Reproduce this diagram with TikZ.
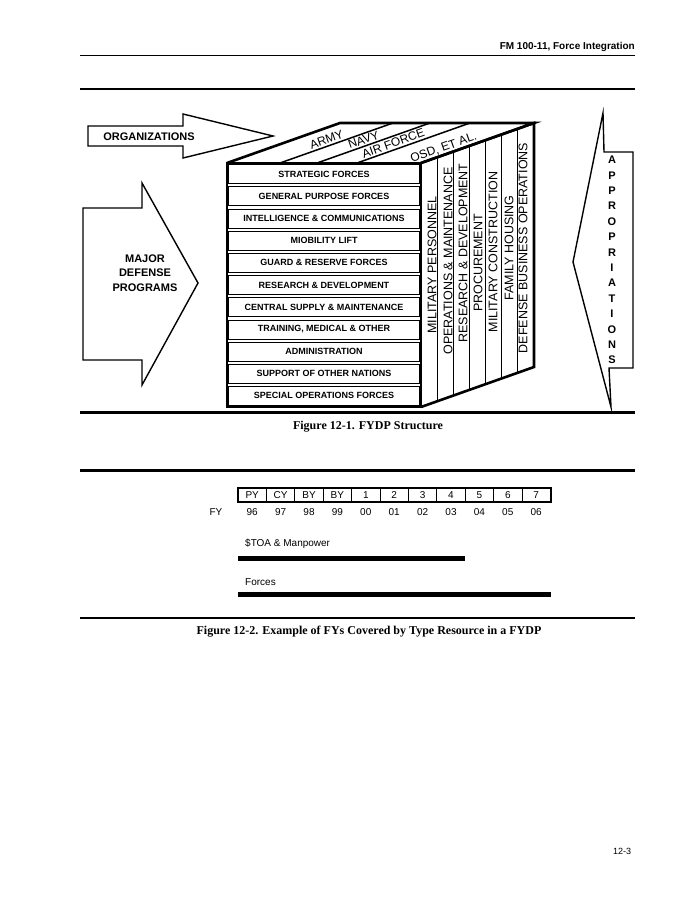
\documentclass[tikz,border=0pt]{standalone}
\usepackage{fontspec}
\setmainfont{Liberation Sans}
\newfontfamily\capfont{Liberation Serif}
\usetikzlibrary{calc}

\begin{document}
\begin{tikzpicture}[x=1pt, y=-1pt,
    every node/.style={inner sep=0pt},
    thinrule/.style={line width=1.3pt},
    rule/.style={line width=2.5pt},
    frame/.style={line width=2.6pt, line join=miter},
    bigarrow/.style={draw, line width=1.4pt, line join=miter},
    row/.style={draw, line width=0.7pt, minimum width=191, minimum height=19,
        font=\fontsize{9}{10}\selectfont\bfseries},
    col/.style={rotate=90, font=\fontsize{12.5}{13}\selectfont},
    org/.style={sloped, above=1.5pt, font=\fontsize{12}{13}\selectfont},
    cell/.style={draw, line width=0.8pt, minimum width=28.4, minimum height=13,
        font=\fontsize{10}{11}\selectfont},
    yr/.style={font=\fontsize{10}{11}\selectfont},
    bar/.style={line width=5pt},
    figcap/.style={font=\capfont\fontsize{12}{14}\selectfont\bfseries}]
    \useasboundingbox (0,0) rectangle (695,899);

    \node[anchor=south east, font=\fontsize{10}{12}\selectfont\bfseries] (hdr) at (635,52) {FM 100-11, Force Integration};
    \draw[thinrule] (80,55.5) -- (635,55.5);
    \draw[rule] (80,89) -- (635,89);

    \draw[bigarrow] (88,126) -- (183,126) -- (183,114) -- (273,136) -- (183,158) -- (183,146) -- (88,146) -- cycle;
    \node[font=\fontsize{11}{12}\selectfont\bfseries] (orgs) at (149,137) {ORGANIZATIONS};
    \draw[bigarrow] (83,208) -- (142,208) -- (142,183) -- (198,283) -- (142,385) -- (142,360) -- (83,360) -- cycle;
    \node[align=center, font=\fontsize{11}{14.5}\selectfont\bfseries] (mdp) at (145,273) {MAJOR\\DEFENSE\\PROGRAMS};
    \draw[bigarrow] (633,152) -- (604,152) -- (603,113) -- (573,262) -- (611,407) -- (609,368) -- (633,368) -- cycle;
    \foreach \ch [count=\i from 0] in {A,P,P,R,O,P,R,I,A,T,I,O,N,S}
        \node[font=\fontsize{11}{12}\selectfont\bfseries] (ap\i) at (612,160+15.4*\i) {\ch};

    \coordinate (fl) at (227,163);
    \coordinate (fr) at (421,163);
    \coordinate (bl) at (227,407);
    \coordinate (br) at (421,407);
    \coordinate (tl) at (340,123);
    \coordinate (tr) at (534,123);
    \coordinate (rb) at (534,367);

    \foreach \lab [count=\i] in {STRATEGIC FORCES, GENERAL PURPOSE FORCES, INTELLIGENCE \& COMMUNICATIONS,
        MIOBILITY LIFT, GUARD \& RESERVE FORCES, RESEARCH \& DEVELOPMENT, CENTRAL SUPPLY \& MAINTENANCE,
        {TRAINING, MEDICAL \& OTHER}, ADMINISTRATION, SUPPORT OF OTHER NATIONS, SPECIAL OPERATIONS FORCES}
        \node[row] (r\i) at (324,163+22.18*\i-11.09) {\lab};
    \draw[frame] (fl) rectangle (br);
    \draw[frame] (fl) -- (tl) -- (tr) -- (fr);
    \draw[frame] (fr) -- (tr) -- (rb) -- (br);

    \foreach \x/\lab/\p [count=\i] in {280/ARMY/0.43, 317/NAVY/0.43, 357/AIR FORCE/0.34}
        \draw[line width=1.5pt] (\x,163) -- ++(113,-40) node[org, pos=\p] (o\i) {\lab};
    \path (fr) -- (tr) node[org, pos=0.22] (o4) {OSD, ET AL.};

    \foreach \i in {1,...,6}
        \draw[line width=0.9pt] ($(fr)!\i/7!(tr)$) -- ($(br)!\i/7!(rb)$);
    \foreach \lab/\x/\y [count=\i] in {MILITARY PERSONNEL/432/265, OPERATIONS \& MAINTENANCE/448/261,
        RESEARCH \& DEVELOPMENT/463/253, PROCUREMENT/478/263, MILITARY CONSTRUCTION/493/252,
        FAMILY HOUSING/509/248, DEFENSE BUSINESS OPERATIONS/523/248}
        \node[col] (c\i) at (\x,\y) {\lab};

    \draw[rule] (80,412.5) -- (635,412.5);
    \node[figcap] (cap1) at (368,427) {Figure 12-1. FYDP Structure};
    \draw[rule] (80,470.5) -- (635,470.5);

    \foreach \lab/\yr [count=\i] in {PY/96, CY/97, BY/98, BY/99, 1/00, 2/01, 3/02, 4/03, 5/04, 6/05, 7/06} {
        \node[cell] (t\i) at (238+28.4*\i-14.2,495) {\lab};
        \node[yr] (y\i) at (238+28.4*\i-14.2,512) {\yr};
    }
    \draw[line width=1.6pt] (t1.north west) rectangle (t11.south east);
    \node[yr] (fy) at (216,512) {FY};
    \node[yr, anchor=west] (toa) at (245,544) {\$TOA \& Manpower};
    \draw[bar] (238,558) -- (465,558);
    \node[yr, anchor=west] (frc) at (245,582) {Forces};
    \draw[bar] (238,594) -- (551,594);

    \draw[rule] (80,618) -- (635,618);
    \node[figcap] (cap2) at (369,632) {Figure 12-2. Example of FYs Covered by Type Resource in a FYDP};
    \node[font=\fontsize{9}{10}\selectfont] (pg) at (622,851) {12-3};
\end{tikzpicture}
\end{document}
